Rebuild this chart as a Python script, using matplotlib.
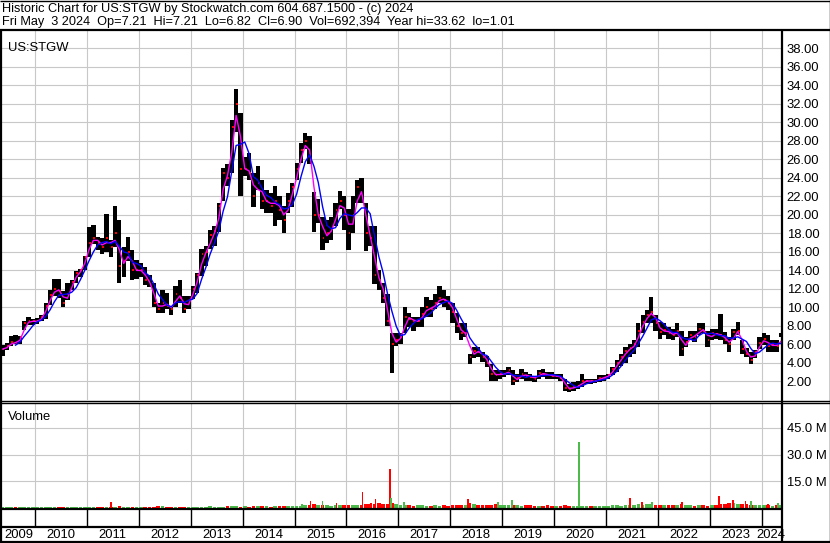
import numpy as np
import pandas as pd
import matplotlib
matplotlib.use("Agg")
import matplotlib.pyplot as plt

plt.rcParams['font.family'] = ['Liberation Sans', 'DejaVu Sans']
FS = 9.4

# monthly bars, May 2009 .. May 2024
lows = [4.8, 5.4, 5.8, 6.0, 6.0, 7.6, 8.1, 8.1,
        8.2, 8.5, 8.8, 10.3, 11.2, 11.0, 10.1, 10.8, 11.9, 12.6, 13.3, 14.0,
        15.4, 16.9, 16.2, 15.8, 16.0, 15.5, 16.5, 12.6, 13.3, 15.0, 13.0, 13.1,
        13.3, 12.4, 12.2, 10.0, 9.4, 9.4, 9.8, 9.2, 10.1, 10.5, 9.4, 9.8,
        10.9, 11.6, 13.4, 14.5, 16.3, 16.6, 18.1, 21.5, 23.1, 24.5, 29.0, 22.0,
        24.2, 23.8, 20.9, 22.7, 20.6, 20.2, 20.2, 18.8, 19.5, 18.0, 20.2, 20.9,
        23.8, 25.6, 27.1, 25.5, 18.1, 19.1, 16.2, 17.0, 17.3, 18.8, 20.6, 18.4,
        16.2, 18.0, 21.3, 21.3, 16.1, 16.6, 12.5, 11.9, 10.5, 8.0, 2.9, 5.8,
        6.1, 7.2, 7.9, 7.5, 7.9, 7.9, 9.0, 9.0, 9.8, 10.5, 10.1, 9.7,
        8.3, 7.2, 6.5, 6.8, 3.9, 4.5, 4.6, 4.1, 3.6, 2.1, 2.1, 2.3,
        2.5, 2.7, 1.6, 1.9, 2.3, 2.1, 2.1, 1.9, 2.3, 2.5, 2.3, 2.3,
        2.3, 2.1, 1.0, 0.9, 1.0, 1.2, 1.4, 1.7, 1.7, 1.8, 1.9, 2.1,
        2.3, 2.7, 3.0, 3.7, 4.0, 4.6, 5.0, 5.7, 7.2, 8.3, 8.3, 7.5,
        6.6, 7.0, 6.6, 6.5, 6.8, 4.8, 5.7, 6.5, 6.3, 7.0, 7.2, 5.7,
        6.5, 6.6, 6.5, 6.1, 5.2, 6.5, 7.0, 5.0, 4.6, 3.9, 4.5, 5.5,
        5.9, 5.2, 5.2, 5.2, 6.82]
highs = [5.9, 6.2, 6.9, 7.0, 6.9, 8.5, 9.0, 8.8,
         8.9, 9.2, 10.5, 11.9, 13.1, 13.1, 11.8, 12.6, 13.0, 13.9, 14.2, 15.6,
         18.7, 18.9, 17.6, 17.5, 20.1, 17.3, 21.0, 19.5, 16.5, 17.6, 16.2, 15.1,
         14.8, 14.4, 13.5, 12.6, 10.5, 11.9, 11.6, 10.0, 12.3, 13.0, 11.2, 11.2,
         12.3, 13.7, 16.3, 16.6, 18.4, 18.8, 21.3, 25.1, 25.5, 30.3, 33.6, 31.0,
         26.3, 26.7, 24.5, 25.3, 23.8, 22.7, 22.4, 23.1, 22.0, 21.0, 22.4, 23.5,
         25.6, 27.8, 28.8, 28.5, 22.5, 21.7, 19.8, 19.5, 19.8, 21.3, 22.6, 22.0,
         20.6, 22.0, 23.8, 24.0, 21.3, 18.8, 18.8, 14.1, 12.6, 11.5, 7.2, 7.2,
         7.2, 10.0, 9.4, 9.0, 9.0, 10.0, 11.1, 10.8, 11.5, 12.3, 11.9, 11.2,
         10.5, 9.4, 8.3, 8.3, 5.0, 5.7, 5.7, 5.2, 4.8, 3.9, 3.2, 3.2,
         3.2, 3.6, 3.2, 2.8, 3.4, 3.0, 2.8, 2.6, 3.2, 3.4, 3.0, 3.0,
         2.8, 2.8, 2.3, 1.7, 1.9, 2.1, 2.8, 2.3, 2.3, 2.3, 2.7, 2.7,
         2.8, 3.6, 4.3, 5.0, 5.7, 6.1, 6.5, 8.3, 9.2, 9.7, 11.1, 9.2,
         8.4, 8.3, 7.9, 7.7, 8.3, 7.5, 6.8, 7.5, 7.5, 8.3, 8.3, 7.5,
         7.7, 7.7, 9.3, 7.4, 6.8, 7.7, 8.4, 6.5, 5.6, 5.2, 5.4, 6.8,
         7.2, 7.0, 6.5, 6.5, 7.21]
closes = [5.5, 5.8, 6.3, 6.1, 6.8, 8.3, 8.5, 8.5,
          8.5, 9.0, 10.2, 11.3, 12.0, 11.8, 10.5, 11.5, 12.8, 13.7, 14.0, 15.5,
          17.0, 17.5, 17.0, 16.5, 17.5, 16.5, 18.0, 14.5, 15.0, 16.0, 14.0, 14.0,
          14.0, 13.0, 12.5, 10.5, 9.8, 10.5, 10.2, 9.8, 11.5, 11.0, 9.8, 10.8,
          12.0, 13.5, 15.8, 16.0, 17.8, 18.3, 21.0, 24.5, 24.0, 29.5, 32.0, 25.0,
          25.0, 24.5, 22.0, 23.5, 21.5, 21.5, 21.0, 21.5, 20.5, 19.5, 21.5, 23.0,
          25.0, 27.0, 28.0, 26.0, 20.0, 20.0, 17.5, 18.0, 18.5, 20.5, 21.5, 20.0,
          18.0, 20.0, 23.0, 22.0, 18.0, 17.5, 13.5, 13.0, 11.0, 8.5, 6.0, 6.5,
          6.8, 9.0, 8.8, 8.5, 8.5, 9.3, 10.0, 9.8, 10.5, 11.0, 10.8, 10.5,
          9.5, 8.0, 7.2, 7.2, 4.6, 5.3, 5.2, 4.7, 4.0, 2.8, 2.7, 2.8,
          2.8, 3.2, 2.0, 2.4, 2.8, 2.6, 2.5, 2.3, 2.9, 2.8, 2.7, 2.6,
          2.6, 2.4, 1.3, 1.2, 1.4, 1.5, 2.0, 2.1, 2.0, 2.0, 2.4, 2.4,
          2.7, 3.3, 4.0, 4.6, 5.3, 5.6, 6.0, 7.5, 8.4, 9.2, 9.5, 8.3,
          7.3, 7.6, 7.2, 7.0, 7.5, 5.5, 6.3, 7.0, 6.8, 7.7, 7.5, 6.5,
          7.2, 7.1, 7.0, 6.5, 6.0, 7.3, 7.5, 5.5, 5.0, 4.3, 5.2, 6.2,
          6.6, 5.8, 6.0, 5.8, 6.9]
# typical monthly volume (millions)
volumes = [0.6, 0.5, 0.5, 0.6, 0.5, 0.7, 0.6, 0.5,
           0.6, 0.5, 0.6, 0.7, 0.8, 0.6, 0.5, 0.6, 0.5, 0.6, 0.5, 0.6,
           0.6, 0.7, 0.6, 0.6, 0.7, 0.8, 0.7, 0.9, 0.7, 0.6, 0.7, 0.6,
           0.7, 0.8, 0.7, 0.8, 0.9, 1.0, 0.8, 0.7, 0.8, 0.7, 0.8, 0.7,
           0.7, 0.8, 0.7, 0.8, 0.9, 0.8, 0.7, 0.8, 0.9, 1.0, 0.9, 0.8,
           0.9, 0.8, 1.0, 0.9, 1.1, 0.9, 0.8, 1.0, 1.2, 0.9, 1.0, 0.9,
           1.2, 1.4, 1.6, 1.8, 2.4, 1.6, 1.5, 1.8, 1.4, 1.5, 1.7, 1.5,
           1.6, 1.8, 1.5, 1.7, 2.2, 2.0, 2.4, 2.6, 2.1, 2.5, 2.8, 2.2,
           1.8, 1.6, 1.5, 1.4, 1.6, 1.5, 1.4, 1.3, 1.5, 1.4, 1.6, 1.4,
           1.5, 1.7, 1.8, 1.6, 2.6, 2.0, 1.8, 1.6, 1.5, 1.7, 2.0, 1.8,
           1.9, 1.8, 1.7, 1.5, 1.4, 1.5, 1.6, 1.3, 1.4, 1.2, 1.5, 1.3,
           1.2, 1.3, 1.5, 1.2, 1.1, 1.2, 1.0, 1.1, 1.2, 1.3, 1.2, 1.4,
           1.3, 1.5, 1.6, 1.4, 1.5, 1.8, 1.6, 2.0, 1.8, 2.2, 2.0, 1.9,
           1.8, 1.6, 1.7, 1.5, 1.6, 2.0, 1.8, 1.5, 1.4, 1.6, 1.5, 1.4,
           1.6, 1.8, 2.4, 2.2, 2.6, 2.8, 2.4, 2.0, 2.2, 1.9, 1.8, 1.7,
           1.5, 1.6, 1.4, 1.5, 1.6]
# single heavy-volume days
spike_dates = [2011.47, 2015.14, 2015.31, 2015.54, 2015.81, 2016.31, 2016.47, 2016.56,
               2016.84, 2016.86, 2017.11, 2018.34, 2018.92, 2019.185, 2020.48, 2021.46,
               2021.70, 2021.89, 2022.46, 2023.18, 2023.45, 2023.69, 2023.79, 2024.13, 2024.31]
spike_vols = [3.5, 2.5, 4.0, 4.0, 3.0, 9.0, 3.0, 5.0,
              22.0, 5.5, 3.5, 5.0, 3.5, 4.5, 37.0, 5.5,
              3.5, 3.5, 3.5, 7.0, 4.5, 4.0, 4.0, 2.5, 3.0]
spike_up = [0, 1, 0, 1, 0, 0, 0, 0,
            0, 1, 1, 0, 1, 1, 1, 0,
            0, 1, 0, 0, 0, 0, 1, 0, 1]

years = list(range(2009, 2025))
price_ticks = list(range(2, 40, 2))
vol_ticks = [15, 30, 45]

months = pd.date_range("2009-05-01", periods=len(closes), freq="MS")
t = months.year + (months.month - 0.5) / 12
df = pd.DataFrame({"t": t, "lo": lows, "hi": highs, "cl": closes, "vol": volumes})
df["ma_fast"] = df["cl"].rolling(2, min_periods=1).mean()
df["ma_slow"] = df["cl"].rolling(4).mean()
df["up"] = df["cl"].diff().fillna(0) >= 0

RED = "#ff0000"
GREEN = "#4cbb4c"
GRID = "#c8c8c8"
XMIN, XMAX = 2009.364, 2024.374

W, H = 830, 543
fig = plt.figure(figsize=(W / 100, H / 100), dpi=100)


def box(x0, y0, x1, y1):
    return [x0 / W, 1 - y1 / H, (x1 - x0) / W, (y1 - y0) / H]


# price panel
ax = fig.add_axes(box(2, 31, 781, 400))
ax.set_xlim(XMIN, XMAX)
ax.set_ylim(0, 39.87)
ax.set_xticks(years[1:])
ax.set_yticks(price_ticks)
ax.grid(True, color=GRID, lw=0.8)
ax.set_axisbelow(True)
ax.tick_params(length=0, labelbottom=False, labelleft=False, labelright=True,
               labelsize=FS, pad=4)
ax.set_yticklabels(["%.2f" % v for v in price_ticks])
for s in ax.spines.values():
    s.set_visible(False)
ax.bar(df["t"], df["hi"] - df["lo"], bottom=df["lo"], width=0.083, color="black", lw=0)
ax.hlines(df["cl"], df["t"], df["t"] + 0.035, color=RED, lw=1.4)
ax.plot(df["t"], df["ma_fast"], color="#ff00ff", lw=1)
ax.plot(df["t"], df["ma_slow"], color="#0000ff", lw=1)
ax.text(0.008, 0.97, "US:STGW", transform=ax.transAxes, fontsize=FS, va="top")

# volume panel
av = fig.add_axes(box(2, 403, 781, 509))
av.set_xlim(XMIN, XMAX)
av.set_ylim(-0.56, 59.0)
av.set_xticks(years[1:])
av.set_yticks(vol_ticks)
av.grid(True, color=GRID, lw=0.8)
av.set_axisbelow(True)
av.tick_params(length=0, labelbottom=False, labelleft=False, labelright=True,
               labelsize=FS, pad=4)
av.set_yticklabels(["%.1f M" % v for v in vol_ticks])
for s in av.spines.values():
    s.set_visible(False)
av.bar(df["t"], df["vol"], width=0.07,
       color=[GREEN if u else RED for u in df["up"]], lw=0)
av.bar(spike_dates, spike_vols, width=0.035,
       color=[GREEN if u else RED for u in spike_up], lw=0)
av.text(0.008, 0.92, "Volume", transform=av.transAxes, fontsize=FS, va="top")

# year strip
ay = fig.add_axes(box(2, 509, 781, 527))
ay.set_xlim(XMIN, XMAX)
ay.set_ylim(0, 1)
ay.axis("off")
for yr in years[1:]:
    ay.axvline(yr, color="black", lw=1)

al = fig.add_axes(box(2, 527, 781, 542))
al.set_xlim(XMIN, XMAX)
al.set_ylim(0, 1)
al.axis("off")
edges = [XMIN] + years[1:] + [XMAX]
for i, yr in enumerate(years):
    al.text((edges[i] + edges[i + 1]) / 2, 0.45, str(yr), ha="center", va="center",
            fontsize=FS, clip_on=False)

# frame and header
ov = fig.add_axes([0, 0, 1, 1], facecolor="none")
ov.set_xlim(0, W)
ov.set_ylim(H, 0)
ov.axis("off")
ov.hlines([0.5], 0, W, color="black", lw=1)
ov.hlines([30], 0, W, color="black", lw=1.6)
ov.hlines([400.5, 403], 0, W, color="black", lw=1)
ov.hlines([509, 527], 0, 781, color="black", lw=1.6)
ov.hlines([542], 0, W, color="black", lw=1.6)
ov.vlines([1], 30, H, color="black", lw=1.6)
ov.vlines([781.5], 30, H, color="black", lw=1.6)
ov.vlines([829.5], 0, H, color="black", lw=1)
ov.text(2, 9, "Historic Chart for US:STGW by Stockwatch.com 604.687.1500 - (c) 2024",
        fontsize=9.2, va="center")
ov.text(2, 22, "Fri May  3 2024  Op=7.21  Hi=7.21  Lo=6.82  Cl=6.90  Vol=692,394  "
        "Year hi=33.62  lo=1.01", fontsize=9.2, va="center")

fig.savefig("out.png", dpi=100)
